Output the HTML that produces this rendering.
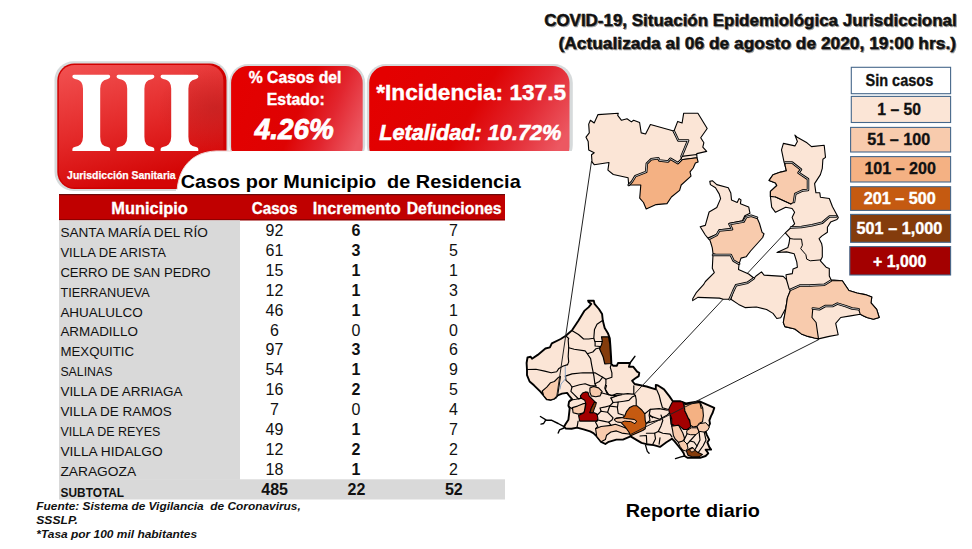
<!DOCTYPE html>
<html><head><meta charset="utf-8">
<style>
html,body{margin:0;padding:0;background:#fff;}
body{width:972px;height:549px;overflow:hidden;font-family:"Liberation Sans",sans-serif;}
svg{position:absolute;left:0;top:0;display:block;}
</style></head><body>
<svg width="972" height="549" viewBox="0 0 972 549" font-family="Liberation Sans, sans-serif">
<defs>
<linearGradient id="g1" x1="0" y1="0" x2="0.35" y2="1">
<stop offset="0" stop-color="#f25252"/><stop offset="0.55" stop-color="#e42a2a"/><stop offset="1" stop-color="#d40606"/>
</linearGradient>
<linearGradient id="g2" x1="0" y1="0.35" x2="1" y2="0.65">
<stop offset="0" stop-color="#e40000"/><stop offset="0.5" stop-color="#de0303"/><stop offset="0.75" stop-color="#e2262f"/><stop offset="1" stop-color="#ec5862"/>
</linearGradient>
<radialGradient id="g1r" cx="0.95" cy="0.35" r="0.35">
<stop offset="0" stop-color="#b82020" stop-opacity="0.55"/><stop offset="1" stop-color="#b82020" stop-opacity="0"/>
</radialGradient>
</defs>

<!-- Title -->
<filter id="tsh" x="-5%" y="-30%" width="110%" height="160%"><feGaussianBlur stdDeviation="0.7"/></filter>
<g font-weight="bold" font-size="16.5" fill="#888" stroke="#888" stroke-width="0.45" transform="translate(1,1.2)" filter="url(#tsh)" opacity="0.8">
<text x="544.2" y="25.8" textLength="412.5" lengthAdjust="spacingAndGlyphs">COVID-19, Situación Epidemiológica Jurisdiccional</text>
<text x="558.5" y="49" textLength="397.5" lengthAdjust="spacingAndGlyphs">(Actualizada al 06 de agosto de 2020, 19:00 hrs.)</text>
</g>
<g font-weight="bold" font-size="16.5" fill="#111" stroke="#111" stroke-width="0.45">
<text x="544.2" y="25.8" textLength="412.5" lengthAdjust="spacingAndGlyphs">COVID-19, Situación Epidemiológica Jurisdiccional</text>
<text x="558.5" y="49" textLength="397.5" lengthAdjust="spacingAndGlyphs">(Actualizada al 06 de agosto de 2020, 19:00 hrs.)</text>
</g>

<!-- Box 1 -->
<rect x="54.5" y="61.3" width="174" height="129.7" rx="19" fill="#d6dadb"/>
<rect x="57.3" y="63.4" width="169.2" height="125.6" rx="17" fill="#d00000"/>
<rect x="58.8" y="65" width="164.5" height="122.5" rx="15.5" fill="url(#g1)"/>
<rect x="58.8" y="65" width="164.5" height="122.5" rx="15.5" fill="url(#g1r)"/>
<path id="Ig" transform="translate(72.4,74.7)" fill="#fff" d="M1.5,0 L36.2,0 Q37.7,0 37.7,1.6 L37.7,2.4 Q37.7,3.6 35.5,4.2 Q31,5.2 29.5,7.5 Q27.8,10 27.8,14 L27.8,62 Q27.8,67 29.6,69.5 Q31.5,71.6 35.5,72.2 Q37.7,72.6 37.7,74.4 L37.7,76.2 L0,76.2 L0,74.4 Q0,72.6 2.2,72.2 Q6.2,71.6 8.2,69.5 Q10.6,67 10.6,62 L10.6,14 Q10.6,10 8.9,7.5 Q7.4,5.2 2.5,4.2 Q0,3.6 0,2.4 L0,1.6 Q0,0 1.5,0 Z"/>
<path transform="translate(116.6,74.7)" fill="#fff" d="M1.5,0 L36.2,0 Q37.7,0 37.7,1.6 L37.7,2.4 Q37.7,3.6 35.5,4.2 Q31,5.2 29.5,7.5 Q27.8,10 27.8,14 L27.8,62 Q27.8,67 29.6,69.5 Q31.5,71.6 35.5,72.2 Q37.7,72.6 37.7,74.4 L37.7,76.2 L0,76.2 L0,74.4 Q0,72.6 2.2,72.2 Q6.2,71.6 8.2,69.5 Q10.6,67 10.6,62 L10.6,14 Q10.6,10 8.9,7.5 Q7.4,5.2 2.5,4.2 Q0,3.6 0,2.4 L0,1.6 Q0,0 1.5,0 Z"/>
<path transform="translate(160.6,74.7)" fill="#fff" d="M1.5,0 L36.2,0 Q37.7,0 37.7,1.6 L37.7,2.4 Q37.7,3.6 35.5,4.2 Q31,5.2 29.5,7.5 Q27.8,10 27.8,14 L27.8,62 Q27.8,67 29.6,69.5 Q31.5,71.6 35.5,72.2 Q37.7,72.6 37.7,74.4 L37.7,76.2 L0,76.2 L0,74.4 Q0,72.6 2.2,72.2 Q6.2,71.6 8.2,69.5 Q10.6,67 10.6,62 L10.6,14 Q10.6,10 8.9,7.5 Q7.4,5.2 2.5,4.2 Q0,3.6 0,2.4 L0,1.6 Q0,0 1.5,0 Z"/>
<text x="67.1" y="178.6" font-weight="bold" font-size="11.6" fill="#fff" stroke="#fff" stroke-width="0.25" textLength="108.6" lengthAdjust="spacingAndGlyphs">Jurisdicción Sanitaria</text>

<!-- Box 2 -->
<rect x="229.2" y="64" width="136" height="100" rx="19" fill="#d6dadb"/>
<rect x="231.1" y="66" width="131.6" height="98" rx="17" fill="url(#g2)"/>
<g fill="#fff" font-weight="bold">
<text x="248.7" y="82.7" font-size="16" stroke="#fff" stroke-width="0.4" textLength="92.7" lengthAdjust="spacingAndGlyphs">% Casos del</text>
<text x="266.8" y="105.2" font-size="16.5" stroke="#fff" stroke-width="0.4" textLength="58" lengthAdjust="spacingAndGlyphs">Estado:</text>
<text x="254.8" y="138.5" font-size="29" font-style="italic" textLength="79" lengthAdjust="spacingAndGlyphs" stroke="#fff" stroke-width="0.9">4.26%</text>
</g>

<!-- Box 3 -->
<rect x="366.8" y="64" width="206" height="100" rx="19" fill="#d6dadb"/>
<rect x="369.2" y="66" width="200.3" height="98" rx="17" fill="url(#g2)"/>
<g fill="#fff" font-weight="bold">
<text x="376.3" y="99.6" font-size="22.5" textLength="189.7" lengthAdjust="spacingAndGlyphs" stroke="#fff" stroke-width="0.4">*Incidencia: 137.5</text>
<text x="379.2" y="139.6" font-size="22.5" font-style="italic" textLength="182.2" lengthAdjust="spacingAndGlyphs" stroke="#fff" stroke-width="0.6">Letalidad: 10.72%</text>
</g>

<!-- White cover shape -->
<path d="M177,200 L177,192 C178,170 190,152 216,151 L600,151 L600,200 Z" fill="#fff"/>
<path d="M177,192 C178,170 190,152 216,151 L232,151" fill="none" stroke="#ecd6d6" stroke-width="1"/>
<rect x="176" y="189.5" width="430" height="12" fill="#fff"/>

<text x="180.7" y="188.1" font-weight="bold" font-size="19" fill="#000" textLength="340" lengthAdjust="spacingAndGlyphs">Casos por Municipio&#160; de Residencia</text>

<!-- Table -->
<rect x="59" y="194" width="446" height="26.3" fill="#c00000"/>
<rect x="59" y="194" width="446" height="1.2" fill="#6a0a0a"/>
<rect x="59" y="219.3" width="446" height="1" fill="#7a0000"/>
<g fill="#fff" font-weight="bold" font-size="16.5" stroke="#fff" stroke-width="0.3">
<text x="111.3" y="214.2" textLength="76.5" lengthAdjust="spacingAndGlyphs">Municipio</text>
<text x="251.7" y="214.2" textLength="45.7" lengthAdjust="spacingAndGlyphs">Casos</text>
<text x="312.8" y="214.2" textLength="87.8" lengthAdjust="spacingAndGlyphs">Incremento</text>
<text x="406.7" y="214.2" textLength="95" lengthAdjust="spacingAndGlyphs">Defunciones</text>
</g>
<rect x="59" y="220.3" width="181" height="259.5" fill="#d9d9d9"/>
<rect x="59" y="479.3" width="446" height="20.2" fill="#d9d9d9"/>

<g fill="#111" font-size="12.7">
<text x="60.4" y="236.6" textLength="147.4" lengthAdjust="spacingAndGlyphs">SANTA MARÍA DEL RÍO</text>
<text x="60.4" y="256.6" textLength="105.5" lengthAdjust="spacingAndGlyphs">VILLA DE ARISTA</text>
<text x="60.4" y="276.5" textLength="150.2" lengthAdjust="spacingAndGlyphs">CERRO DE SAN PEDRO</text>
<text x="60.4" y="296.5" textLength="89.4" lengthAdjust="spacingAndGlyphs">TIERRANUEVA</text>
<text x="60.4" y="316.5" textLength="82.3" lengthAdjust="spacingAndGlyphs">AHUALULCO</text>
<text x="60.4" y="336.4" textLength="77.5" lengthAdjust="spacingAndGlyphs">ARMADILLO</text>
<text x="60.4" y="356.4" textLength="73.7" lengthAdjust="spacingAndGlyphs">MEXQUITIC</text>
<text x="60.4" y="376.4" textLength="52" lengthAdjust="spacingAndGlyphs">SALINAS</text>
<text x="60.4" y="396.4" textLength="122.1" lengthAdjust="spacingAndGlyphs">VILLA DE ARRIAGA</text>
<text x="60.4" y="416.3" textLength="111.4" lengthAdjust="spacingAndGlyphs">VILLA DE RAMOS</text>
<text x="60.4" y="436.3" textLength="99.9" lengthAdjust="spacingAndGlyphs">VILLA DE REYES</text>
<text x="60.4" y="456.3" textLength="102.2" lengthAdjust="spacingAndGlyphs">VILLA HIDALGO</text>
<text x="60.4" y="476.2" textLength="75.7" lengthAdjust="spacingAndGlyphs">ZARAGOZA</text>
<text x="60.6" y="496.6" font-weight="bold" textLength="63.5" lengthAdjust="spacingAndGlyphs">SUBTOTAL</text>
</g>
<g fill="#111" font-size="16" text-anchor="middle">
<text x="274.5" y="235.8">92</text>
<text x="356" y="235.8" font-weight="bold">6</text>
<text x="453.5" y="235.8">7</text>
<text x="274.5" y="255.7">61</text>
<text x="356" y="255.7" font-weight="bold">3</text>
<text x="453.5" y="255.7">5</text>
<text x="274.5" y="275.7">15</text>
<text x="356" y="275.7" font-weight="bold">1</text>
<text x="453.5" y="275.7">1</text>
<text x="274.5" y="295.6">12</text>
<text x="356" y="295.6" font-weight="bold">1</text>
<text x="453.5" y="295.6">3</text>
<text x="274.5" y="315.5">46</text>
<text x="356" y="315.5" font-weight="bold">1</text>
<text x="453.5" y="315.5">1</text>
<text x="274.5" y="335.5">6</text>
<text x="356" y="335.5">0</text>
<text x="453.5" y="335.5">0</text>
<text x="274.5" y="355.4">97</text>
<text x="356" y="355.4" font-weight="bold">3</text>
<text x="453.5" y="355.4">6</text>
<text x="274.5" y="375.3">54</text>
<text x="356" y="375.3" font-weight="bold">1</text>
<text x="453.5" y="375.3">9</text>
<text x="274.5" y="395.2">16</text>
<text x="356" y="395.2" font-weight="bold">2</text>
<text x="453.5" y="395.2">5</text>
<text x="274.5" y="415.2">7</text>
<text x="356" y="415.2">0</text>
<text x="453.5" y="415.2">4</text>
<text x="274.5" y="435.1">49</text>
<text x="356" y="435.1" font-weight="bold">1</text>
<text x="453.5" y="435.1">7</text>
<text x="274.5" y="455.0">12</text>
<text x="356" y="455.0" font-weight="bold">2</text>
<text x="453.5" y="455.0">2</text>
<text x="274.5" y="475.0">18</text>
<text x="356" y="475.0" font-weight="bold">1</text>
<text x="453.5" y="475.0">2</text>
<g font-weight="bold">
<text x="274.6" y="495.3">485</text>
<text x="356.5" y="495.3">22</text>
<text x="453.8" y="495.3">52</text>
</g>
</g>

<!-- Footnote -->
<g fill="#111" font-weight="bold" font-style="italic" font-size="11.2">
<text x="36.3" y="510.3" textLength="264.5" lengthAdjust="spacingAndGlyphs">Fuente: Sistema de Vigilancia&#160; de Coronavirus,</text>
<text x="36.3" y="524.2" textLength="41.5" lengthAdjust="spacingAndGlyphs">SSSLP.</text>
<text x="36.3" y="537.6" textLength="160.8" lengthAdjust="spacingAndGlyphs">*Tasa por 100 mil habitantes</text>
</g>

<!-- Legend -->
<g stroke="#46678a" stroke-width="1.1">
<rect x="851.3" y="67.3" width="99.3" height="26.4" fill="#fff"/>
<rect x="851.3" y="96.4" width="99.3" height="26.1" fill="#fbe5d6"/>
<rect x="850.6" y="127.4" width="100" height="24.6" fill="#f8cbad"/>
<rect x="850.6" y="156.6" width="100" height="25.4" fill="#f4b183"/>
<rect x="850.6" y="186.7" width="100" height="23.7" fill="#c55a11"/>
<rect x="850.6" y="214.4" width="100" height="27.9" fill="#843c0c"/>
<rect x="849.8" y="246.6" width="100.8" height="28.4" fill="#a30000"/>
</g>
<g font-weight="bold" font-size="15.6">
<text x="865.5" y="85.5" fill="#111" stroke="#111" stroke-width="0.3" textLength="67.8" lengthAdjust="spacingAndGlyphs">Sin casos</text>
<text x="877.3" y="114.6" fill="#111" stroke="#111" stroke-width="0.3" textLength="43.7" lengthAdjust="spacingAndGlyphs">1 – 50</text>
<text x="867.3" y="144.7" fill="#111" stroke="#111" stroke-width="0.3" textLength="62.9" lengthAdjust="spacingAndGlyphs">51 – 100</text>
<text x="864.4" y="174.4" fill="#111" stroke="#111" stroke-width="0.3" textLength="71.5" lengthAdjust="spacingAndGlyphs">101 – 200</text>
<text x="863.7" y="203.8" fill="#fff" stroke="#fff" stroke-width="0.35" textLength="72.2" lengthAdjust="spacingAndGlyphs">201 – 500</text>
<text x="856.6" y="234.2" fill="#fff" stroke="#fff" stroke-width="0.35" textLength="85.6" lengthAdjust="spacingAndGlyphs">501 – 1,000</text>
<text x="873.1" y="266.6" fill="#fff" stroke="#fff" stroke-width="0.35" textLength="53.3" lengthAdjust="spacingAndGlyphs">+ 1,000</text>
</g>

<!-- MAP -->
<g id="map" stroke="#000" stroke-linejoin="round" stroke-linecap="round">
<polygon fill="#fbe5d6" stroke-width="1.9" points="588.1,300.7 593.8,300.7 594.5,303.9 598.9,309 602.1,314.1 602.8,320.5 604.7,328.1 607.9,333.2 609.8,338.3 610.4,346 611.1,357.5 611.4,364 613,365.7 616.9,365.7 618,363 630,363 628.9,366.8 633.3,366.8 637.1,371.7 639.3,372.8 638.7,376.1 635.4,378.3 632.1,380.7 634.6,384 642.8,385.7 646.6,386.5 655.8,389.3 655.8,384.9 658,385.5 663.3,388.9 664,389.3 669.5,396.4 672.8,401.3 680.4,401.3 685.9,403.5 699.6,401.3 714.3,407.9 712.7,412.8 711,416.1 709.4,420.4 710,423.7 707.8,428.1 705.6,431.4 706.7,434.6 709.2,439.6 707.4,442.3 709.2,446.9 711.1,449.6 705.6,449.6 708.3,453.3 705.6,456 700.1,457.8 694.7,457.8 687.4,457.8 684.6,456 683.7,453.3 681.9,450.5 678.3,446 674.6,441.4 671.9,438.7 669.2,440.5 666.4,442.3 663.7,444.2 660,446.9 653.7,445.1 646.4,444.2 641.5,442.9 636,439.6 630.6,436.4 622.9,439.6 616.4,439.6 608.7,441.8 605.4,444 601.1,441.8 596.7,436.4 593.4,433.1 590.1,431.4 583.6,429.3 577,427.6 571.6,428.7 565.9,428.6 564,426.7 565.9,423.5 568.4,419.7 569,414.6 569.7,408.2 568.4,405.7 569,401.8 572.2,399.3 569,395.5 567.1,392.9 562,393.6 557.6,395.5 554.4,398.7 550.6,399.9 546.8,399.3 543.6,395.5 540.4,391.7 534,385.3 529.6,381.5 527,375.1 527,370 526.6,363 527.5,357.5 530.7,356.8 532,358.7 537.7,354.9 545.4,348.5 549.9,347.3 551.8,343.4 560.7,339 565.8,335.8 572.2,330.1 578.5,320.5 584.3,310.9 588.7,307.1 591.3,303.9 588.7,302"/>
<polygon fill="#843c0c" stroke-width="1.2" points="601.5,336.8 608.5,336.8 609.8,344 611,363.5 604.8,363.8 603.2,357 600.5,351 599.4,348.5 601.5,345 602.3,341"/>
<polygon fill="#f8cbad" stroke-width="1.1" points="589.9,387.9 593.5,386.5 598.6,387.9 602.2,391.6 600,395.9 595.7,396.7 591.3,395.9 589.9,392.3"/>
<polygon fill="#f8cbad" stroke-width="1.1" points="542.3,391 546.8,387.2 550.6,382.7 554.4,381.5 558.2,377.6 560.5,376.5 559.5,383 558.2,392 557.6,395.5 554.4,398.7 550.6,399.9 546.8,399.3 543.6,395.5"/>
<polygon fill="#f8cbad" stroke-width="1.1" points="572.4,407.6 577.5,406.1 582.6,403.9 585.5,403.2 585.1,408.3 584,412.7 578.6,414.1 573.1,412.7"/>
<polygon fill="#a30000" stroke-width="1.1" points="580.4,395.9 582.6,393 585.5,391.9 588,392.3 589.1,395.9 591.3,398.1 593.5,400.3 595.7,402.5 593.5,403.9 591.3,408.3 589.9,412.7 594.2,412.7 597.1,414.1 597.9,418.5 597.1,421.1 579.7,421.1 578.6,415.6 584,412.7 585.1,408.3 585.9,403.9 584.8,400.3 580.8,398.1"/>
<polygon fill="#843c0c" stroke-width="1.0" points="594.2,402.5 596.4,402.5 595.7,405.4 594.2,409 593.1,412.7 589.9,412.7 591.3,408.3 593.5,403.9"/>
<polygon fill="#f8cbad" stroke-width="1.1" points="595.6,428.7 601.1,426.5 610.9,425.4 615.3,424.3 621.8,426.5 627.3,428.7 630.6,434.2 621.8,433.1 616.4,430.9 610.9,432 606.5,435.3 605.4,439.6 601.1,441.8 596.7,436.4"/>
<polygon fill="#c55a11" stroke-width="1.1" points="633.3,405.7 636.7,405.7 641.8,410 644.8,413.8 645.2,420.3 646.1,423.7 645.2,428.8 642.7,430.5 630.7,435.7 629,432.2 624.7,426.3 621.3,422.8 618.7,422 616.1,421.1 614.4,419.4 616.1,418.1 623,417.3 624.7,416 626.4,411.7 629.8,407.4"/>
<polygon fill="#f8cbad" stroke-width="1.0" points="616.1,418.5 622.1,417.7 625.5,418.5 634.1,419.4 636.7,421.1 635,423.7 633.3,422.8 630.7,421.5 628.1,421.5 624.7,421.1 621.3,422.4 617,422 614.6,420.3"/>
<polygon fill="#a30000" stroke-width="1.1" points="672.5,401.7 682.6,401.7 684.1,405.5 684.9,410.9 686.4,414 688.4,418.4 690.5,422.7 690.5,427 687.1,429.5 683.7,429.5 678.6,425.3 671.7,426.1 671.7,418.7 669.4,412.5 668.6,409.4 670.9,404.8"/>
<polygon fill="#f4b183" stroke-width="1.1" points="684.1,404.8 700.3,402.4 702.7,407.9 703.4,415.6 702.5,421.8 699.1,423.6 697.4,426.1 693.1,427 690.5,425.3 689.7,420.1 688.4,418.4 686.4,414 684.9,410.9"/>
<polygon fill="#f8cbad" stroke-width="1.1" points="671.7,426.1 678.6,425.3 682.8,433 684.5,438 683.7,440.7 678.6,442.4 675.1,439 673.4,435.5 672.6,430.4"/>
<polygon fill="#f8cbad" stroke-width="1.0" points="678.6,442.4 683.7,440.7 687.1,444.1 688,448.4 685.4,450.9 682.8,450.1 680.3,446.7"/>
<polygon fill="#f8cbad" stroke-width="1.0" points="687.1,430.4 691.4,427.8 697.4,427.8 699.1,432.1 695.7,434.7 690.5,434.7 687.1,433.8"/>
<polygon fill="#f8cbad" stroke-width="1.0" points="697.4,426.1 699.9,423.6 705.9,422.7 709.4,427 707.6,430.4 704.2,432.1 699.1,431.3"/>
<polygon fill="#843c0c" stroke-width="1.1" points="686.3,450.9 688.8,449.2 692.2,447.5 694.8,450.1 698.2,452.6 702.5,454.4 699.1,456.9 691.4,456.5 688,455.2"/>
<polygon fill="#f8cbad" stroke-width="0.8" points="689.7,449.5 693.1,447.9 695,450.5 692,452"/>
<polyline fill="none" stroke="#000" stroke-width="1.5" points="630,363 634.9,356.4"/>
<polyline fill="none" stroke="#000" stroke-width="1.4" points="564,426.7 558.2,423.5 551.8,420.3 546.8,420.3 540.4,416.5"/>
<polyline fill="none" stroke="#000" stroke-width="1.4" points="545.5,420.3 543.6,423.5 541,424.1"/>
<polyline fill="none" stroke="#000" stroke-width="1.4" points="564,428 559.5,429.9 558.2,433.1"/>
<polyline fill="none" stroke="#000" stroke-width="1.3" points="645.5,445.1 647.3,451.4 649.1,453.3"/>
<polyline fill="none" stroke="#000" stroke-width="1.3" points="684.6,456 681,456.9 675.5,458.7"/>
<g fill="none" stroke-width="1.15">
<polyline points="572.2,330.7 578.5,334.5 583.6,339 588.7,339 593.8,338.3 594.5,329.4 597,324.3 602.5,320.5"/>
<polyline points="593.8,338.3 595.1,342.2 595.1,346 600.2,346.5"/>
<polyline points="595.1,341.5 602.3,341.5"/>
<polyline points="568.7,347.7 574.2,349.3 585.1,350.9 587.3,353.7 592.8,352 596,348.7 600.4,347.7"/>
<polyline points="565.8,335.8 568.7,338.5 568.2,340 568.7,347.7 568.2,356.4 568.7,361.9 567.6,364.6"/>
<polyline points="527.3,369.5 535.9,369.3 544.7,371.1 551.2,372.8 556.7,371.7 558.9,368.4 562.7,366.2 567.6,364.6"/>
<polyline points="587.3,353.7 590.6,358.6 591.7,365.1 592.8,370.6 593.9,376.1 594.9,383.7 596,385.9"/>
<polyline points="565.4,376.1 572,373.9 582.9,372.8 592.8,372.8 595,372.8 602.7,377.2 605.9,379.3"/>
<polyline points="602.7,377.2 599.4,381.5 595,383.7"/>
<polyline points="565.4,376.1 566,380.4 569.8,383.7 572,387 579.6,384.8 585.1,383.7 590.6,385.9 596,385.9"/>
<polyline points="572,387 570.9,391.4 574.2,394.6 578.6,399 581.4,398.1"/>
<polyline points="569.4,400.3 575.9,399.2 581.4,398.1"/>
<polyline points="578.1,421.1 577,427.6"/>
<polyline points="569.5,406.9 572.7,409"/>
<polyline points="611.4,364 610.3,367.3 611.9,372.8 611.9,377.2 605.9,379.3 605.9,383.7 604.8,388.1 607,393.6 611.4,395.7 616.9,393.6 623.4,394.1 627.8,393.6 632.2,394.1 633.8,393.9"/>
<polyline points="633.8,385.7 633.8,393.9 635.4,395.5 636.2,399.6 636.2,405.3"/>
<polyline points="601.1,392.7 608.7,394.8 616.4,395.9 621.8,394.8"/>
<polyline points="606.5,385.5 605.4,389.4 608.7,394.8"/>
<polyline points="618.2,402 623.9,401.2 628.9,400.4 632.1,397.1 635.4,395.5"/>
<polyline points="610.9,398.1 613.1,402.5 609.8,405.8 607.6,412.3"/>
<polyline points="613.1,402.5 618.2,402 617.4,407.8 618.2,413.5 623.9,415.2"/>
<polyline points="610,406.1 617.4,407"/>
<polyline points="597.8,420 603.3,421.1 608.7,422.2 612,420 613.1,417.8 607.6,412.3 601.1,411.2 597.8,414.5 596.7,414.5"/>
<polyline points="601.1,411.2 600,408 605.4,406.9 609.8,405.8"/>
<polyline points="597.8,420 595.6,422.2 597.8,426.5 595.6,428.7"/>
<polyline points="608.7,422.2 610.9,425.4"/>
<polyline points="610.9,398.1 616.4,395.9"/>
<polyline points="656.7,389.8 659.2,395.5 660.8,402 662.5,407.8 668.4,409.5"/>
<polyline points="645.2,413.5 650.2,409.4 659.2,408.6 663.3,409.4 667.4,410.2"/>
<polyline points="650.2,409.4 649.3,414.3 652.6,417.6"/>
<polyline points="650.4,416.1 659.7,419.3 667.3,415 669.5,412.8"/>
<polyline points="661,415 662.8,420.5 661,425.9 658.2,431.4 662.8,433.2 670.1,434.1 671.9,436.9"/>
<polyline points="646.4,423.2 661,419.6"/>
<polyline points="646.4,433.2 654.6,433.2 658.2,431.4"/>
<polyline points="654.6,433.2 655.5,438.7 652.8,444.2"/>
<polyline points="660,437.8 659.1,444.2"/>
<polyline points="670.1,415 671,424.1 673.7,425"/>
<polyline points="649.1,415 650,420.5 646.4,423.2"/>
<polyline points="640,436 646.4,435.5 646.8,444.2"/>
<polyline points="683.7,440.7 687.1,433.8"/>
<polyline points="687.1,444.1 690,441 695.7,434.7"/>
<polyline points="699.1,432.1 700,440 697,446 694.8,450.1"/>
<polyline points="704.2,432.1 706,440 703,446 698.2,452.6"/>
<polyline points="690,441 694,442 697,446"/>
<polyline points="699.6,401.3 701.2,408.4"/>
</g>
<polyline fill="none" stroke="#7f9cc0" stroke-width="0.9" points="565.2,366.5 565.4,378.9 561,384 560,389"/>

<polyline fill="none" stroke="#222" stroke-width="1.0" points="591.5,161.4 556.5,398"/>
<polyline fill="none" stroke="#222" stroke-width="1.0" points="634.2,394.3 785.3,232.8"/>
<polyline fill="none" stroke="#222" stroke-width="1.0" points="818.5,339.7 629.5,435"/>
<polygon fill="#fbe5d6" stroke-width="1.1" points="598.0,114.6 618.3,113.2 617.7,115.4 621.5,120.3 627.0,118.7 631.4,121.9 633.6,120.3 639.6,122.5 641.2,132.9 645.6,134.0 650.4,124.5 653.1,125.2 672.8,130.7 673.9,132.3 678.3,140.5 688.1,140.5 681.5,156.4 681.2,159.8 677.9,163.1 670.3,158.7 668.1,161.5 659.3,160.4 658.3,158.2 651.1,159.3 646.8,163.7 646.2,171.9 635.3,176.2 632.0,181.7 628.7,185.0 628.1,177.8 613.3,174.5 607.9,170.1 609.0,162.5 594.2,164.7 592.0,161.9 591.5,154.8 594.2,152.7 588.7,149.9 588.2,141.6 586.0,137.2 589.3,132.9 588.7,124.1 590.4,120.3 594.2,123.0"/>
<polygon fill="#fbe5d6" stroke-width="1.1" points="683.7,113.2 697.9,113.2 707.2,128.5 700.7,137.8 703.9,142.7 702.8,147.1 706.7,151.4 696.8,153.6 695.2,159.6 681.5,156.4 688.1,140.5 678.3,140.5 673.9,131.2 677.7,121.4 682.1,123.0"/>
<polygon fill="#fbe5d6" stroke-width="1.1" points="681.5,156.4 696.8,154.5 697.0,157.7 681.2,159.8"/>
<polygon fill="#f4b183" stroke-width="1.1" points="628.7,185.0 640.8,185.0 639.7,198.1 643.5,202.5 646.2,209.0 656.1,204.6 667.0,203.6 671.4,197.0 679.6,190.4 681.2,185.0 691.0,176.2 690.0,171.9 693.2,168.0 695.4,163.1 698.1,162.0 697.0,157.7 681.2,159.8 677.9,163.1 670.3,158.7 668.1,161.5 659.3,160.4 658.3,158.2 651.1,159.3 646.8,163.7 646.2,171.9 635.3,176.2 632.0,181.7"/>
<polygon fill="#fbe5d6" stroke-width="1.1" points="709.8,181.4 712.3,180.7 716.8,184.6 728.3,187.8 730.8,192.9 731.5,199.9 737.2,202.4 739.1,198.6 741.0,199.9 740.4,203.7 748.7,206.9 750.0,213.3 744.8,215.8 742.3,220.9 728.9,223.5 732.1,228.6 719.3,229.8 716.8,234.3 707.9,238.1 705.3,235.0 700.2,226.7 705.3,225.4 709.1,212.0 716.8,207.5 720.6,198.6 719.3,194.1 715.5,187.8 710.4,184.6"/>
<polygon fill="#f8cbad" stroke-width="1.1" points="709.1,238.8 716.8,235 719.3,230.5 732.1,229.2 729.5,224.1 743.6,221.6 746.1,217.1 751.2,215.8 757,217.7 759.5,223.5 762.1,232.4 764,233.7 762.7,237.5 750.6,251 746.1,256.8 741,258.1 739.1,263.8 732.7,260.6 730.8,254.9 715.5,254.2 713,253.6 712.3,247.9 710.4,241.5"/>
<polygon fill="#fbe5d6" stroke-width="1.1" points="713,254.9 730.8,254.9 733.4,260.6 739.1,263.8 738.5,269.5 748.7,274 754.4,278.5 747.5,282.8 736,285.3 733.5,290.4 729.6,299.3 723.3,299.3 719.4,298.1 697.8,297.4 692.7,300.6 692.7,298.7 696.5,292.3 703.5,284.7 705.4,281.5 714.3,272.6 712.3,268.3"/>
<polygon fill="#fbe5d6" stroke-width="1.1" points="730.9,299.3 738.6,304.4 745,307.6 756.4,307 766.6,309.5 773,313.4 776.8,318.5 780.7,317.8 785.8,308.3 787,301.9 790.9,290.4 789.6,284 785.8,278.9 783.2,276.4 764.1,275.1 761.5,271.9 756.4,275.7 753.9,278.3 747.5,282.8 736,285.3 733.5,290.4"/>
<polygon fill="#fbe5d6" stroke-width="1.1" points="794.9,135.1 796.8,137 807,142.8 811.5,146.6 824.2,145.3 825.5,157.4 822.9,159.3 822.3,168.3 820.4,174.6 814.6,183.6 815.9,192.8 819.8,192.8 820.4,197.2 829.3,198.5 832.5,206.8 838.3,217.6 837,219.5 830.6,222.1 827.4,227.2 827.4,232.3 821.7,236.1 819.1,238.7 821.7,243.8 822.3,247.4 822.3,257 820.4,260.8 826.1,267.2 829.3,268.5 829.3,276.1 831.2,279.9 842.3,280.7 848.9,290.5 857,293 865.2,294.6 871.8,297 871,302.8 876.7,309.3 879.2,317.5 873.4,319.2 866.9,317.5 863.6,315.9 860.3,314.3 850.5,315.9 840.7,317.5 835.7,323.3 838.2,334.8 829.2,336.4 818.5,338.9 814.4,338 807.9,336.4 801.3,333.9 794.8,329 784.9,326.6 783.3,322.5 785.7,309.3 787.4,297.9 790.7,289.7 789.1,288.9 786.6,280 786,274.8 792.3,273.6 793,269.1 797.4,267.2 796.8,262.1 794.2,253.8 786.6,251.9 777,252.5 787.9,247.4 789.1,243 789.8,237.9 785.3,232.8 790.5,228 794.6,223.8 792.1,217.4 794.6,212.3 792.1,208.5 785.7,207.2 775.5,212.3 771.7,207.2 770.4,196.4 770.4,191.3 776.8,185.5 775.5,183 769.1,180.4 773,174.7 780.6,172.1 786.4,170.8 785.1,165.7 784,161.9 781.5,149.8 783.4,143.4 794.9,145.9 797.4,141.5"/>
<polygon fill="#f8cbad" stroke-width="1.1" points="785.1,162.6 792.1,162.6 801,169.6 798.5,172.8 808,179.1 808,190 802.3,190.6 795.3,193.8 794,202.1 790.8,204 775.5,197 770.4,196.4 770.4,191.3 776.8,185.5 775.5,183 769.1,180.4 773,174.7 780.6,172.1 786.4,170.8 785.1,165.7"/>
<polygon fill="#f8cbad" stroke-width="1.1" points="790.7,289.7 799.7,285.6 809.5,285.6 824.3,284.8 830.8,280.7 842.3,280.7 848.9,290.5 857,293 865.2,294.6 871.8,297 871,302.8 876.7,309.3 879.2,317.5 873.4,319.2 866.9,317.5 863.6,315.9 860.3,314.3 858.7,309.3 852.1,308.5 845.6,306.1 837.4,303.6 832.5,306.1 825.1,306.1 819.3,309.3 812.8,308.5 812,317.5 816.1,322.5 818.5,338.9 814.4,338 807.9,336.4 801.3,333.9 794.8,329 784.9,326.6 783.3,322.5 785.7,309.3 787.4,297.9"/>
<polyline fill="none" stroke="#000" stroke-width="1.0" points="789.8,238.5 793.8,239.1 801.5,239.1 802.4,245.2 800.7,248.7 805.9,254.7 806.7,259.1 810.2,260.8 820.6,259.9"/>
<polyline fill="none" stroke="#000" stroke-width="1.0" points="775.5,197 790.8,204"/>
<polyline fill="none" stroke="#000" stroke-width="2.5" points="709.1,238.8 716.8,235 719.3,230.5 732.1,229.2 729.5,224.1 743.6,221.6 746.1,217.1 751.2,215.8 757,217.7"/>
<polyline fill="none" stroke="#fff" stroke-width="0.7" points="709.1,238.8 716.8,235 719.3,230.5 732.1,229.2 729.5,224.1 743.6,221.6 746.1,217.1 751.2,215.8 757,217.7"/>
<polyline fill="none" stroke="#000" stroke-width="2.5" points="628.7,185.0 632.0,181.7 635.3,176.2 646.2,171.9 646.8,163.7 651.1,159.3 658.3,158.2 659.3,160.4 668.1,161.5 670.3,158.7 677.9,163.1 681.2,159.8"/>
<polyline fill="none" stroke="#fff" stroke-width="0.7" points="628.7,185.0 632.0,181.7 635.3,176.2 646.2,171.9 646.8,163.7 651.1,159.3 658.3,158.2 659.3,160.4 668.1,161.5 670.3,158.7 677.9,163.1 681.2,159.8"/>
<polyline fill="none" stroke="#000" stroke-width="2.5" points="673.9,131.2 678.3,140.5 688.1,140.5 681.5,156.4"/>
<polyline fill="none" stroke="#fff" stroke-width="0.7" points="673.9,131.2 678.3,140.5 688.1,140.5 681.5,156.4"/>
<polyline fill="none" stroke="#000" stroke-width="2.5" points="785.1,162.6 792.1,162.6 801,169.6 798.5,172.8 808,179.1 808,190 802.3,190.6 795.3,193.8 794,202.1"/>
<polyline fill="none" stroke="#fff" stroke-width="0.7" points="785.1,162.6 792.1,162.6 801,169.6 798.5,172.8 808,179.1 808,190 802.3,190.6 795.3,193.8 794,202.1"/>
<polyline fill="none" stroke="#000" stroke-width="2.5" points="790.7,289.7 799.7,285.6 809.5,285.6 824.3,284.8 830.8,280.7"/>
<polyline fill="none" stroke="#fff" stroke-width="0.7" points="790.7,289.7 799.7,285.6 809.5,285.6 824.3,284.8 830.8,280.7"/>
<polyline fill="none" stroke="#000" stroke-width="2.5" points="812.8,308.5 819.3,309.3 825.1,306.1 832.5,306.1 837.4,303.6 845.6,306.1 852.1,308.5 858.7,309.3"/>
<polyline fill="none" stroke="#fff" stroke-width="0.7" points="812.8,308.5 819.3,309.3 825.1,306.1 832.5,306.1 837.4,303.6 845.6,306.1 852.1,308.5 858.7,309.3"/>
<polyline fill="none" stroke="#000" stroke-width="2.5" points="729.6,299.3 733.5,290.4 736,285.3 747.5,282.8 753.9,278.3"/>
<polyline fill="none" stroke="#fff" stroke-width="0.7" points="729.6,299.3 733.5,290.4 736,285.3 747.5,282.8 753.9,278.3"/>
<polyline fill="none" stroke="#000" stroke-width="2.5" points="791,227.5 801.5,227 812,225.3 822.3,222.7 829.3,216.6 836.2,216.6"/>
<polyline fill="none" stroke="#fff" stroke-width="0.7" points="791,227.5 801.5,227 812,225.3 822.3,222.7 829.3,216.6 836.2,216.6"/>
<polyline fill="none" stroke="#000" stroke-width="2.5" points="713,254.9 730.8,254.9 733.4,260.6 739.1,263.8"/>
<polyline fill="none" stroke="#fff" stroke-width="0.7" points="713,254.9 730.8,254.9 733.4,260.6 739.1,263.8"/>
</g>

<text x="625.7" y="517.1" font-weight="bold" font-size="19" fill="#000" textLength="134.3" lengthAdjust="spacingAndGlyphs">Reporte diario</text>
</svg>
</body></html>
